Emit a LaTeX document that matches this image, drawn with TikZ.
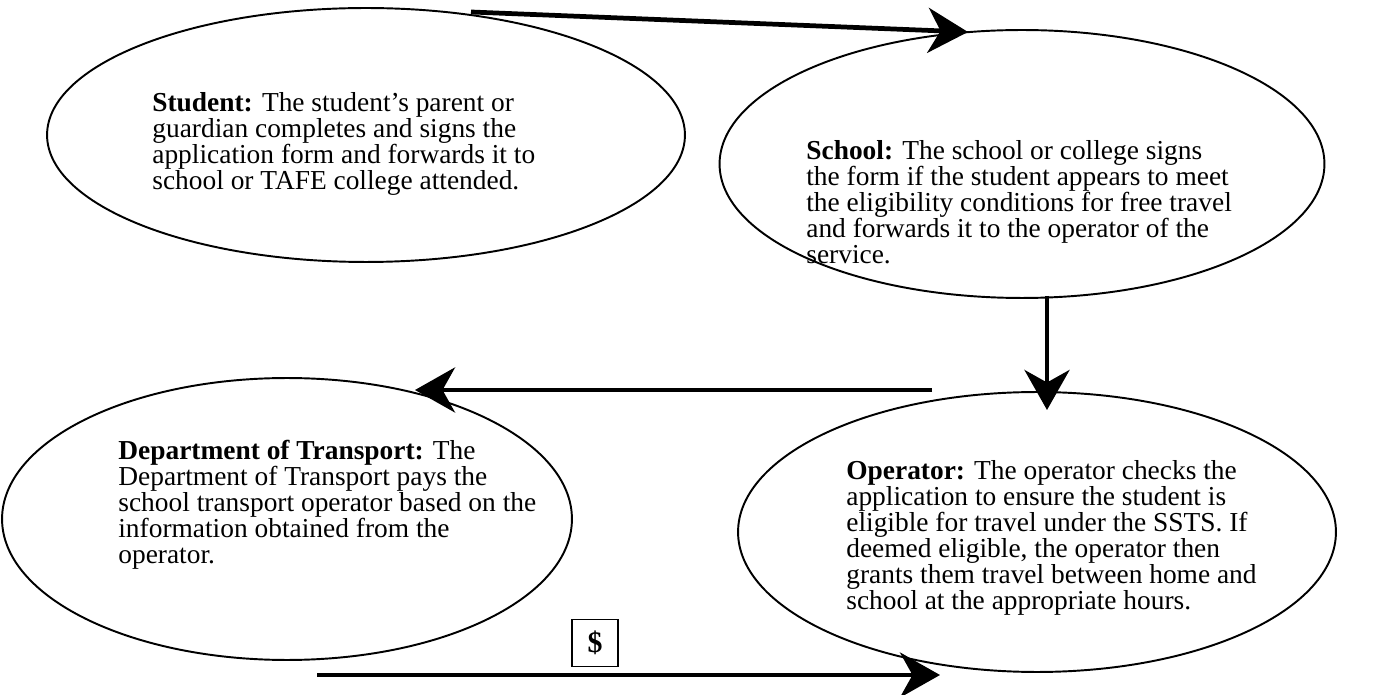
\documentclass[tikz,border=0pt]{standalone}
\usepackage{fontspec}
\setmainfont{Liberation Serif}
\usetikzlibrary{shapes.geometric, arrows.meta}

\tikzset{
  stage/.style={draw, ellipse, line width=1.1pt, inner sep=0pt},
  blurb/.style={anchor=north west, align=left, inner sep=0pt,
    font=\fontsize{15.6pt}{14.8pt}\selectfont},
  flow/.style={line width=2.7pt,
    -{Stealth[length=0.8cm, width=0.9cm, inset=0.25cm]}},
}

\begin{document}
\begin{tikzpicture}[x=0.02cm, y=-0.02cm]
    \useasboundingbox (0,0) rectangle (1382,695);
    % the four stages
    \node[stage, minimum width=12.76cm, minimum height=5.08cm] (stu) at (366,135) {};
    \node[stage, minimum width=12.1cm, minimum height=5.36cm] (sch) at (1022,164) {};
    \node[stage, minimum width=11.4cm, minimum height=5.64cm] (dot) at (287,519) {};
    \node[stage, minimum width=11.96cm, minimum height=5.6cm] (opr) at (1037,532) {};
    \node[blurb] (stutext) at (152,92) {\textbf{Student:} The student's parent or\\
        guardian completes and signs the\\
        application form and forwards it to\\
        school or TAFE college attended.};
    \node[blurb] (schtext) at (806,140) {\textbf{School:} The school or college signs\\
        the form if the student appears to meet\\
        the eligibility conditions for free travel\\
        and forwards it to the operator of the\\
        service.};
    \node[blurb] (dottext) at (118,440) {\textbf{Department of Transport:} The\\
        Department of Transport pays the\\
        school transport operator based on the\\
        information obtained from the\\
        operator.};
    \node[blurb] (oprtext) at (846,460) {\textbf{Operator:} The operator checks the\\
        application to ensure the student is\\
        eligible for travel under the SSTS. If\\
        deemed eligible, the operator then\\
        grants them travel between home and\\
        school at the appropriate hours.};
    % payment
    \node[draw, line width=1.1pt, minimum width=0.92cm, minimum height=0.94cm,
        font=\fontsize{17pt}{18pt}\selectfont\bfseries] (fee) at (595,643) {\$};
    % arrow ends
    \coordinate (stuout) at (471,12);
    \coordinate (schin) at (968,32);
    \coordinate (schout) at (1047,296);
    \coordinate (oprin) at (1047,410);
    \coordinate (oprout) at (932,390);
    \coordinate (dotin) at (415,390);
    \coordinate (dotout) at (317,675);
    \coordinate (oprpay) at (940,675);
    \draw[flow] (stuout) -- (schin);
    \draw[flow] (schout) -- (oprin);
    \draw[flow] (oprout) -- (dotin);
    \draw[flow] (dotout) -- (oprpay);
\end{tikzpicture}
\end{document}
